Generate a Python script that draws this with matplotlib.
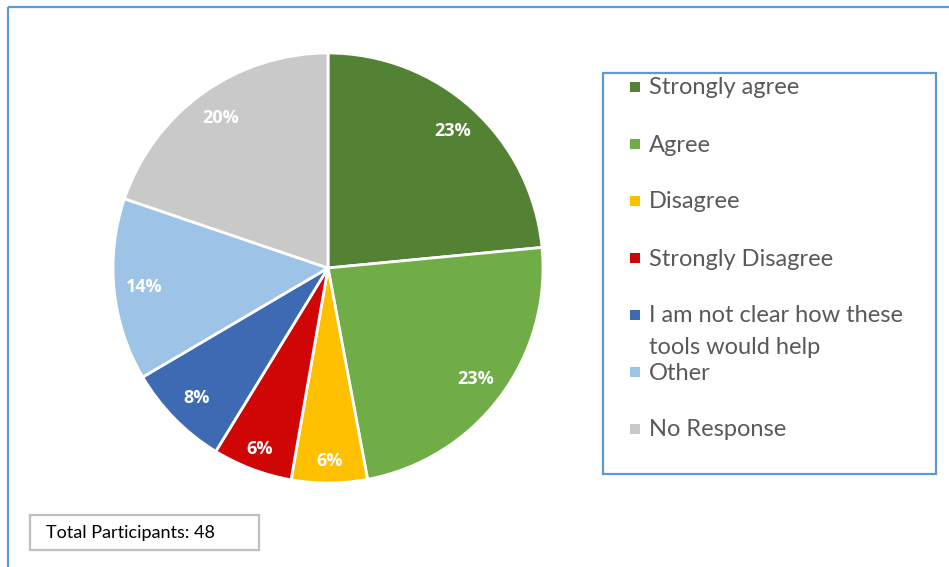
import matplotlib
matplotlib.use("Agg")
import matplotlib.pyplot as plt
from matplotlib.patches import Rectangle
import numpy as np

# survey answers (share of the pie) and the printed labels
categories = ["Strongly agree", "Agree", "Disagree", "Strongly Disagree",
              "I am not clear how these\ntools would help", "Other", "No Response"]
shares = [23.5, 23.6, 5.7, 6.0, 7.8, 13.7, 19.8]
pct_labels = ["23%", "23%", "6%", "6%", "8%", "14%", "20%"]
total_participants = 48

colors = ["#548235", "#70AD47", "#FFC000", "#D00606", "#3E69B3", "#9DC3E6", "#C9C9C9"]

W, H = 949, 567
fig = plt.figure(figsize=(W / 100, H / 100), dpi=100)
fig.patch.set_facecolor("white")

# overlay in pixel coordinates for frames and legend
bg = fig.add_axes([0, 0, 1, 1], zorder=0)
bg.set_xlim(0, W)
bg.set_ylim(H, 0)
bg.axis("off")

# outer chart frame (runs off the right and bottom edge)
bg.add_patch(Rectangle((8, 7), 960, 600, fill=False, edgecolor="#5B9BD5", linewidth=1.6))

# pie
cx, cy, r = 328, 268, 215
ax = fig.add_axes([(cx - r) / W, (H - cy - r) / H, 2 * r / W, 2 * r / H], zorder=2)
wedges, _ = ax.pie(shares, colors=colors, startangle=90, counterclock=False,
                   radius=1.0, wedgeprops=dict(edgecolor="white", linewidth=2))
for w, lab in zip(wedges, pct_labels):
    mid = np.deg2rad((w.theta1 + w.theta2) / 2)
    d = 0.86 if (w.theta2 - w.theta1) > 25 else 0.9
    ax.text(d * np.cos(mid), d * np.sin(mid), lab, ha="center", va="center",
            color="white", fontsize=13, fontweight="bold", family="Open Sans")
ax.set_xlim(-1, 1)
ax.set_ylim(-1, 1)
ax.set_aspect("equal")
ax.axis("off")

# legend box
bg.add_patch(Rectangle((603, 73), 333, 401, fill=False, edgecolor="#5B9BD5", linewidth=1.6))
for i, (lab, c) in enumerate(zip(categories, colors)):
    y = 87 + i * 57
    bg.add_patch(Rectangle((630, y - 5), 10, 10, facecolor=c, edgecolor="none"))
    for j, line in enumerate(lab.split("\n")):
        bg.text(649, y + 1 + j * 32, line, ha="left", va="center", color="#595959",
                fontsize=17, family="Lato")

# participants box
bg.add_patch(Rectangle((30, 515), 229, 35, fill=False, edgecolor="#BFBFBF", linewidth=1.6))
bg.text(46, 533, f"Total Participants: {total_participants}", ha="left", va="center",
        color="black", fontsize=13, family="Lato")

fig.savefig("out.png", dpi=100, facecolor="white")
